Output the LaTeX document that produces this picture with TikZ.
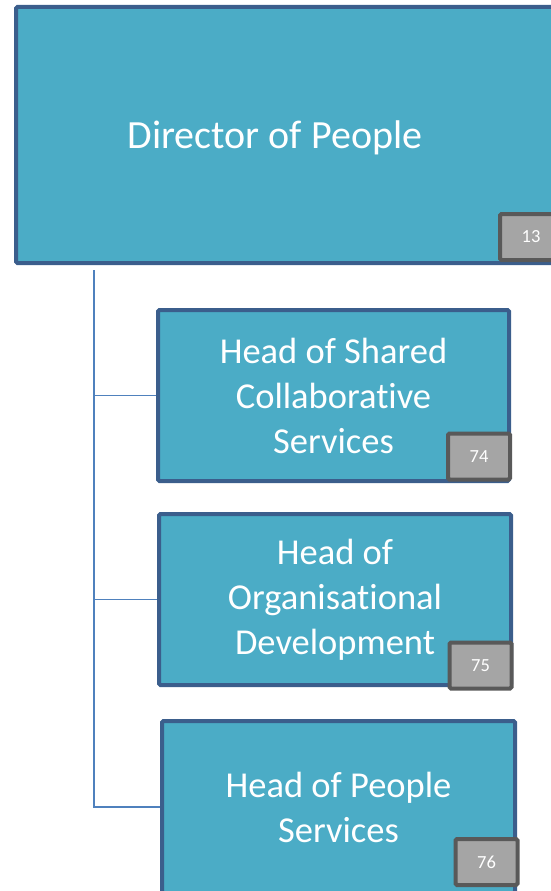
\documentclass[tikz,border=0pt]{standalone}
\usepackage{fontspec}
\setmainfont[RawFeature={-liga;-clig;-dlig}]{Carlito}
\definecolor{boxfill}{HTML}{4BACC6}
\definecolor{boxline}{HTML}{3B5E8C}
\definecolor{badgefill}{HTML}{A5A5A5}
\definecolor{badgeline}{HTML}{595959}
\definecolor{conn}{HTML}{4F81BD}
\begin{document}
\begin{tikzpicture}[x=1pt,y=-1pt,
  orgbox/.style={draw=boxline,fill=boxfill,line width=4pt,rounded corners=1.5pt,
    inner sep=0pt,text=white,align=center,font=\fontsize{36.5}{45}\selectfont},
  badge/.style={draw=badgeline,fill=badgefill,line width=4pt,rounded corners=1.5pt,
    inner sep=0pt,text=white,font=\fontsize{18.5}{20}\selectfont,minimum width=62pt,minimum height=46pt},
  connline/.style={draw=conn,line width=1.5pt}]
\useasboundingbox (0,0) rectangle (551,891);
\clip (0,0) rectangle (551,891);
% top box
\node[orgbox,minimum width=584pt,minimum height=256pt] (top) at (308,135) {};
\node[text=white,font=\fontsize{40}{48}\selectfont,inner sep=0pt] (toptext) at (275,138) {Director of People};
\node[badge] (b13) at (531,237) {13};
% sub boxes
\node[orgbox,minimum width=351pt,minimum height=171pt] (s1) at (333.5,395.5) {Head of Shared\\Collaborative\\Services};
\node[badge] (b74) at (479,456.5) {74};
\node[orgbox,minimum width=352pt,minimum height=171pt] (s2) at (335,599.5) {Head of\\Organisational\\Development};
\node[badge] (b75) at (480.5,665.5) {75};
\node[orgbox,minimum width=353pt,minimum height=172pt] (s3) at (338.5,807) {Head of People\\Services};
\node[badge] (b76) at (486.5,862) {76};
% connectors
\coordinate (trunk) at (94,270);
\draw[connline] (trunk) |- (s3.west);
\draw[connline] (trunk |- s1.west) -- (s1.west);
\draw[connline] (trunk |- s2.west) -- (s2.west);
\end{tikzpicture}
\end{document}
